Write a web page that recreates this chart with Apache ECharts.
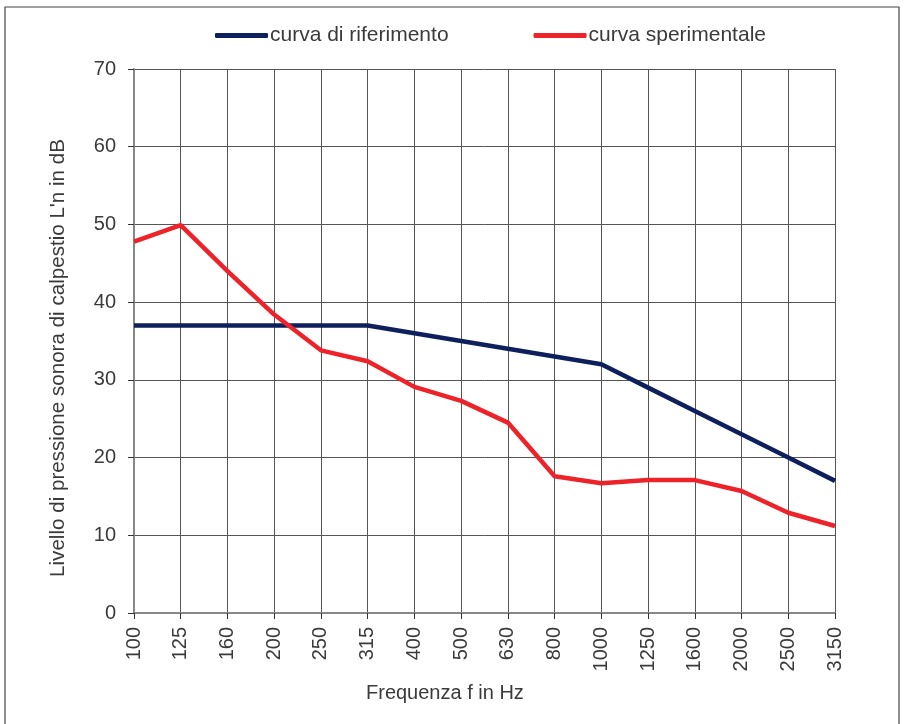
<!DOCTYPE html>
<html><head><meta charset="utf-8">
<script src="https://cdn.jsdelivr.net/npm/echarts@6/dist/echarts.min.js"></script>
<style>html,body{margin:0;padding:0;background:#fff}#c{width:905px;height:724px}</style>
</head><body><div id="c"></div>
<script>
const categories = ['100','125','160','200','250','315','400','500','630','800','1000','1250','1600','2000','2500','3150'];
const riferimento = [37,37,37,37,37,37,36,35,34,33,32,29,26,23,20,17];
const sperimentale = [47.8,49.9,44.0,38.4,33.8,32.4,29.1,27.3,24.5,17.6,16.7,17.1,17.1,15.7,12.9,11.2];
const seriesNames = ['curva di riferimento','curva sperimentale'];
const yName = "Livello di pressione sonora di calpestio L'n in dB";
const xName = 'Frequenza f in Hz';

const chart = echarts.init(document.getElementById('c'));
const font = 'Liberation Sans';
const txt = '#3a3a3a';
chart.setOption({
  animation:false,
  backgroundColor:'#fff',
  textStyle:{fontFamily:font},
  graphic:[
    {type:'rect',shape:{x:5,y:7,width:894,height:730},style:{fill:'none',stroke:'#444',lineWidth:1.2},silent:true},
    {type:'text',x:366,y:693,style:{text:xName,fontSize:20,fill:txt,fontFamily:font,verticalAlign:'middle'}},
    {type:'text',x:58,y:358,rotation:Math.PI/2,style:{text:yName,fontSize:20.6,fill:txt,fontFamily:font,align:'center',verticalAlign:'middle'}}
  ],
  legend:{
    top:25,left:215,padding:0,
    itemWidth:53,itemHeight:5,itemGap:85,
    icon:'roundRect',
    textStyle:{fontSize:21,color:txt,padding:[0,0,0,-3]},
    data:seriesNames
  },
  grid:{left:134,right:70,top:69,bottom:111,containLabel:false},
  xAxis:{
    type:'category',data:categories,boundaryGap:false,
    axisLine:{lineStyle:{color:'#888',width:2}},
    axisTick:{show:true,alignWithLabel:true,length:6,lineStyle:{color:'#333'}},
    axisLabel:{rotate:90,fontSize:20,color:txt,margin:14,interval:0},
    splitLine:{show:true,lineStyle:{color:'#555',width:1}}
  },
  yAxis:{
    type:'value',min:0,max:70,interval:10,
    axisLine:{show:true,lineStyle:{color:'#888',width:2}},
    axisTick:{show:true,length:6,lineStyle:{color:'#333'}},
    axisLabel:{fontSize:20,color:txt,margin:18},
    splitLine:{show:true,lineStyle:{color:'#555',width:1}}
  },
  series:[
    {name:seriesNames[0],type:'line',data:riferimento,symbol:'none',lineStyle:{color:'#0d1f5c',width:4.5},itemStyle:{color:'#0d1f5c'}},
    {name:seriesNames[1],type:'line',data:sperimentale,symbol:'none',lineStyle:{color:'#ee2229',width:4.5},itemStyle:{color:'#ee2229'}}
  ]
});
</script></body></html>
